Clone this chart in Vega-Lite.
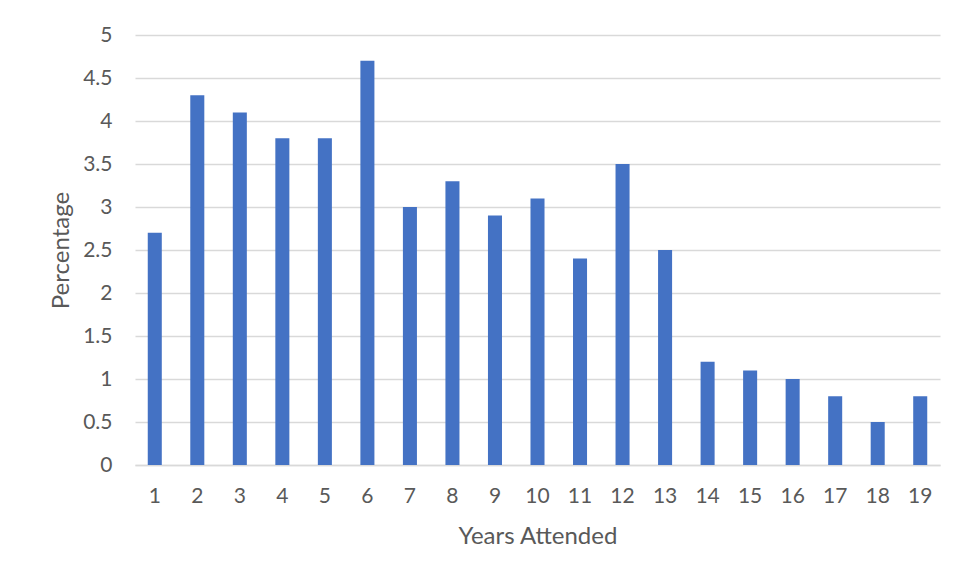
{
  "$schema": "https://vega.github.io/schema/vega-lite/v6.json",
  "width": 805,
  "height": 430,
  "padding": {"left": 135, "top": 35, "right": 18, "bottom": 116},
  "autosize": {"type": "none"},
  "background": "white",
  "data": {
    "values": [
      {"year": 1, "pct": 2.7},
      {"year": 2, "pct": 4.3},
      {"year": 3, "pct": 4.1},
      {"year": 4, "pct": 3.8},
      {"year": 5, "pct": 3.8},
      {"year": 6, "pct": 4.7},
      {"year": 7, "pct": 3.0},
      {"year": 8, "pct": 3.3},
      {"year": 9, "pct": 2.9},
      {"year": 10, "pct": 3.1},
      {"year": 11, "pct": 2.4},
      {"year": 12, "pct": 3.5},
      {"year": 13, "pct": 2.5},
      {"year": 14, "pct": 1.2},
      {"year": 15, "pct": 1.1},
      {"year": 16, "pct": 1.0},
      {"year": 17, "pct": 0.8},
      {"year": 18, "pct": 0.5},
      {"year": 19, "pct": 0.8}
    ]
  },
  "mark": {"type": "bar", "color": "#4472C4"},
  "encoding": {
    "x": {
      "field": "year",
      "type": "ordinal",
      "title": "Years Attended",
      "scale": {"paddingInner": 0.67, "paddingOuter": 0.3},
      "axis": {
        "labelAngle": 0,
        "ticks": false,
        "domainColor": "#d9d9d9",
        "domainWidth": 1.5,
        "labelPadding": 20,
        "titlePadding": 18
      }
    },
    "y": {
      "field": "pct",
      "type": "quantitative",
      "title": "Percentage",
      "scale": {"domain": [0, 5]},
      "axis": {
        "values": [0, 0.5, 1, 1.5, 2, 2.5, 3, 3.5, 4, 4.5, 5],
        "format": "~g",
        "ticks": false,
        "domain": false,
        "gridColor": "#d9d9d9",
        "gridWidth": 1.5,
        "labelPadding": 23,
        "titlePadding": 9
      }
    }
  },
  "config": {
    "view": {"stroke": null},
    "axis": {
      "labelFont": "Lato",
      "titleFont": "Lato",
      "labelFontSize": 21,
      "titleFontSize": 24,
      "labelColor": "#595959",
      "titleColor": "#595959",
      "titleFontWeight": "normal"
    }
  }
}
